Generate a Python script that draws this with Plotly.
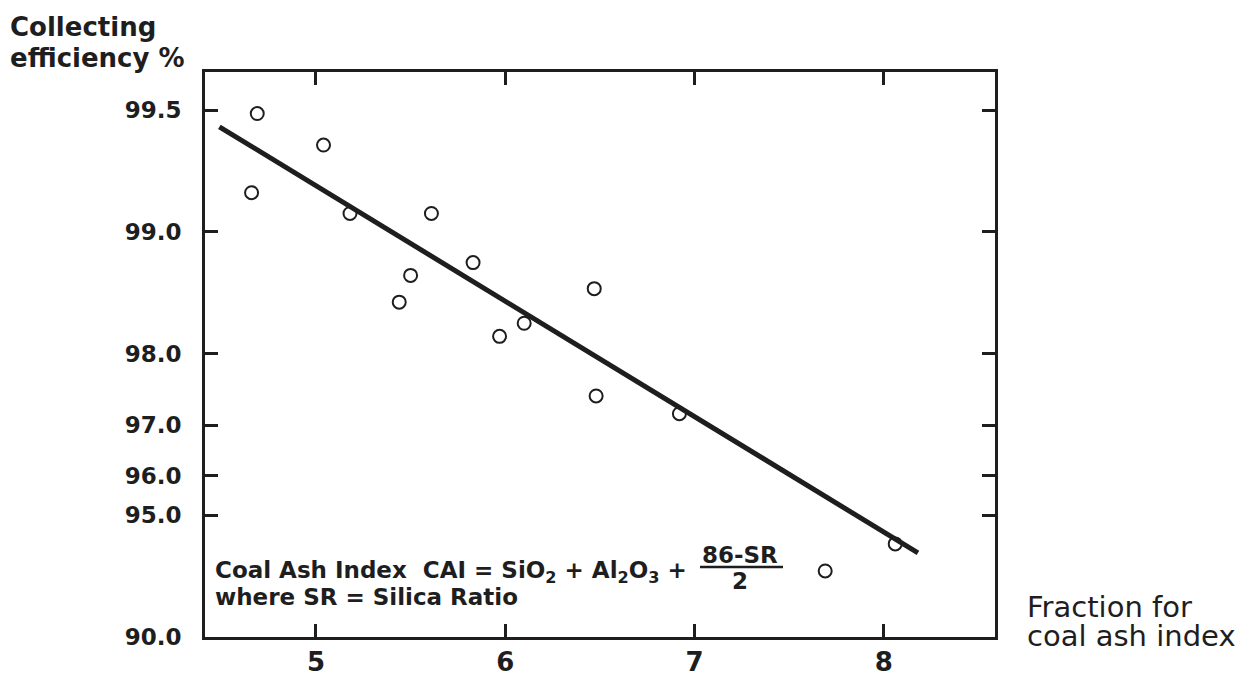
import plotly.graph_objects as go

# ---- data ----
cai_fraction = [4.69, 5.04, 4.66, 5.18, 5.61, 5.83, 5.50, 5.44, 6.47, 6.10, 5.97, 6.48, 6.92, 7.69, 8.06]
efficiency = [99.49, 99.39, 99.20, 99.10, 99.10, 98.81, 98.72, 98.51, 98.62, 98.32, 98.19, 97.46, 97.19, 93.13, 94.11]

fit_x = [4.49, 8.18]
fit_eff = [99.45, 93.80]

ytick_eff = [99.5, 99.0, 98.0, 97.0, 96.0, 95.0, 90.0]
ytick_text = ["99.5", "99.0", "98.0", "97.0", "96.0", "95.0", "90.0"]
xtick_vals = [5, 6, 7, 8]

# probability-style axis: efficiency plotted as log of loss (100 - eff)
loss = [100 - e for e in efficiency]
fit_loss = [100 - e for e in fit_eff]
ytick_loss = [100 - e for e in ytick_eff]

INK = "#1e1e1e"
FONT = "DejaVu Sans"

fig = go.Figure()
fig.add_trace(go.Scatter(x=fit_x, y=fit_loss, mode="lines",
                         line=dict(color=INK, width=5), showlegend=False, hoverinfo="skip"))
fig.add_trace(go.Scatter(x=cai_fraction, y=loss, mode="markers",
                         marker=dict(symbol="circle-open", size=13, color=INK, line=dict(width=2, color=INK)),
                         showlegend=False))

# the page body adds an 8px margin, so work in page pixels and shift by it
OFF = 8
W, H = 1254 - OFF, 677 - OFF
L, R, T, B = 205 - OFF, 995 - OFF, 72 - OFF, 637 - OFF
pw, ph = R - L, B - T


def px(x):
    return (x - OFF - L) / pw


def py(y):
    return (B - (y - OFF)) / ph


fig.update_layout(
    width=W, height=H,
    margin=dict(l=L, r=W - R, t=T, b=H - B, autoexpand=False),
    paper_bgcolor="white", plot_bgcolor="white",
    font=dict(family=FONT, color=INK),
    xaxis=dict(range=[4.414, 8.587], tickvals=xtick_vals, ticks="inside", ticklen=13, tickwidth=3,
               tickcolor=INK, showline=True, linewidth=3, linecolor=INK, mirror="ticks",
               showgrid=False, zeroline=False, automargin=False,
               tickfont=dict(family=FONT, size=26, weight="bold", color=INK), ticklabelstandoff=0),
    yaxis=dict(type="log", range=[1.0, -0.395], tickvals=ytick_loss, ticktext=ytick_text,
               ticks="inside", ticklen=13, tickwidth=3, tickcolor=INK,
               showline=True, linewidth=3, linecolor=INK, mirror="ticks",
               showgrid=False, zeroline=False, automargin=False,
               tickfont=dict(family=FONT, size=23, weight="bold", color=INK), ticklabelstandoff=16),
)

ann = []


def add(text, x, y, size, xanchor="left", weight="bold"):
    ann.append(dict(text=text, x=px(x), y=py(y), xref="paper", yref="paper", showarrow=False,
                    xanchor=xanchor, yanchor="middle",
                    font=dict(family=FONT, size=size, weight=weight, color=INK)))


add("Collecting", 8, 27, 26)
add("efficiency %", 8, 58, 26)
add("Fraction for", 1025, 607, 29, weight="normal")
add("coal ash index", 1025, 636, 29, weight="normal")
add("Coal Ash Index  CAI = SiO<sub>2</sub> + Al<sub>2</sub>O<sub>3</sub> +", 213, 572, 23)
add("where SR = Silica Ratio", 213, 597, 23)
add("86-SR", 740, 555, 23, xanchor="center")
add("2", 740, 581, 23, xanchor="center")
fig.update_layout(annotations=ann)
fig.add_shape(type="line", xref="paper", yref="paper", x0=px(700), x1=px(783), y0=py(567), y1=py(567),
              line=dict(color=INK, width=2.5))

fig.write_html("out.html")
